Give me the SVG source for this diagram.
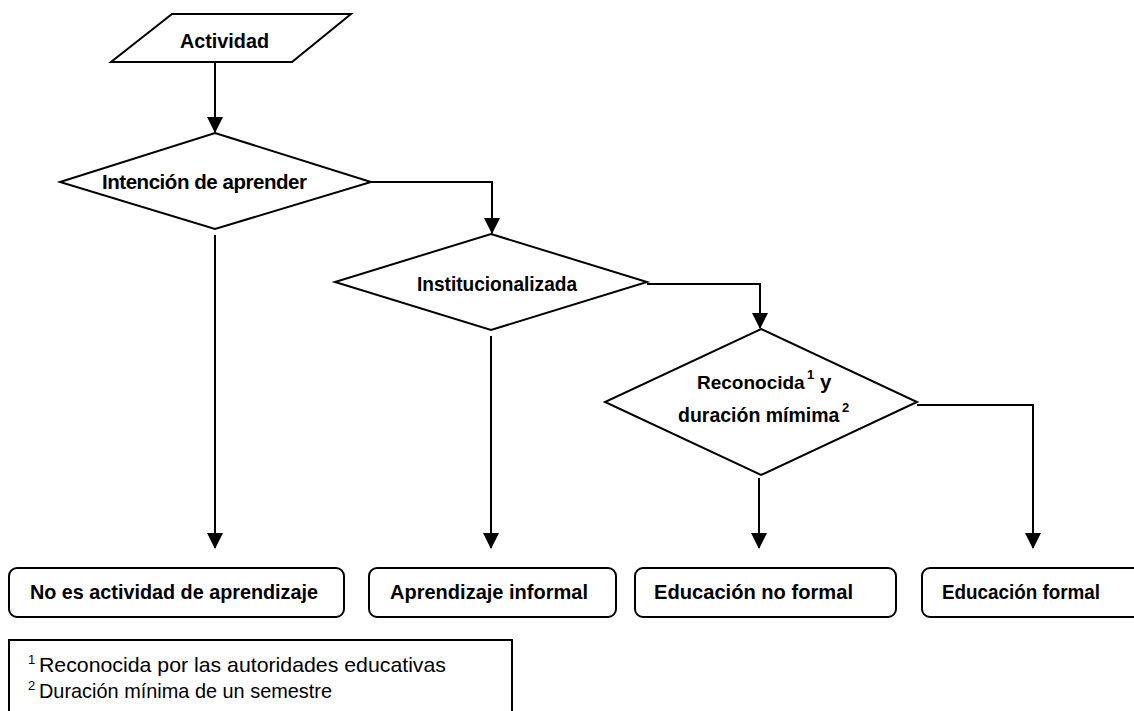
<svg xmlns="http://www.w3.org/2000/svg" width="1134" height="711" viewBox="0 0 1134 711">
<style>
.shape{fill:#fff;stroke:#000;stroke-width:2;stroke-linejoin:miter}
.conn{fill:none;stroke:#000;stroke-width:2}
.lbl{font-family:"Liberation Sans",Arial,sans-serif;font-weight:bold;font-size:20.5px;fill:#000}
.note{font-family:"Liberation Sans",Arial,sans-serif;font-size:21px;fill:#000}
.sup{font-size:13px}
</style>
<defs>
<marker id="arr" markerWidth="16" markerHeight="18" refX="15" refY="8" orient="auto" markerUnits="userSpaceOnUse" viewBox="0 0 16 16">
<path d="M0,0 L16,8 L0,16 z" fill="#000"/>
</marker>
</defs>
<rect width="1134" height="711" fill="#fff"/>
<g id="connectors">
<line class="conn" x1="215" y1="62" x2="215" y2="132" marker-end="url(#arr)"/>
<polyline class="conn" points="371,182 492,182 492,233" marker-end="url(#arr)"/>
<line class="conn" x1="215" y1="235" x2="215" y2="548" marker-end="url(#arr)"/>
<polyline class="conn" points="647,284 760,284 760,328" marker-end="url(#arr)"/>
<line class="conn" x1="491" y1="336" x2="491" y2="548" marker-end="url(#arr)"/>
<polyline class="conn" points="917,405 1033,405 1033,548" marker-end="url(#arr)"/>
<line class="conn" x1="759" y1="478" x2="759" y2="548" marker-end="url(#arr)"/>
</g>
<g id="actividad">
<polygon class="shape" points="172,14 351,14 292,62 111,62"/>
<text class="lbl" x="180" y="48" textLength="89" lengthAdjust="spacingAndGlyphs">Actividad</text>
</g>
<g id="intencion">
<polygon class="shape" points="215,133 371,182 215,229 60,182"/>
<text class="lbl" x="102" y="189" textLength="205" lengthAdjust="spacing">Intención de aprender</text>
</g>
<g id="institucionalizada">
<polygon class="shape" points="491,234 647,282 491,330 335,282"/>
<text class="lbl" x="417" y="291" textLength="160" lengthAdjust="spacingAndGlyphs">Institucionalizada</text>
</g>
<g id="reconocida">
<polygon class="shape" points="761,329 917,402 761,475 605,402"/>
<text class="lbl" x="697" y="389" style="font-size:19px">Reconocida</text>
<text class="lbl sup" x="807" y="379">1</text>
<text class="lbl" x="820" y="389">y</text>
<text class="lbl" x="678" y="422" style="font-size:19.5px">duración mímima</text>
<text class="lbl sup" x="842" y="412">2</text>
</g>
<g id="no-es">
<rect class="shape" x="9" y="568" width="335" height="49" rx="8"/>
<text class="lbl" x="30" y="599" textLength="288" lengthAdjust="spacingAndGlyphs">No es actividad de aprendizaje</text>
</g>
<g id="informal">
<rect class="shape" x="369" y="568" width="247" height="49" rx="8"/>
<text class="lbl" x="390" y="599" textLength="198" lengthAdjust="spacingAndGlyphs">Aprendizaje informal</text>
</g>
<g id="no-formal">
<rect class="shape" x="635" y="568" width="261" height="49" rx="8"/>
<text class="lbl" x="654" y="599" textLength="199" lengthAdjust="spacingAndGlyphs">Educación no formal</text>
</g>
<g id="formal">
<rect class="shape" x="922" y="568" width="240" height="49" rx="8"/>
<text class="lbl" x="942" y="599" textLength="158" lengthAdjust="spacingAndGlyphs">Educación formal</text>
</g>
<g id="notas">
<rect x="9" y="640" width="503" height="90" fill="#fff" stroke="#000" stroke-width="2"/>
<text class="note sup" x="28" y="664">1</text>
<text class="note" x="39" y="672" textLength="407" lengthAdjust="spacingAndGlyphs">Reconocida por las autoridades educativas</text>
<text class="note sup" x="28" y="690">2</text>
<text class="note" x="39" y="698" textLength="293" lengthAdjust="spacingAndGlyphs">Duración mínima de un semestre</text>
</g>
</svg>
